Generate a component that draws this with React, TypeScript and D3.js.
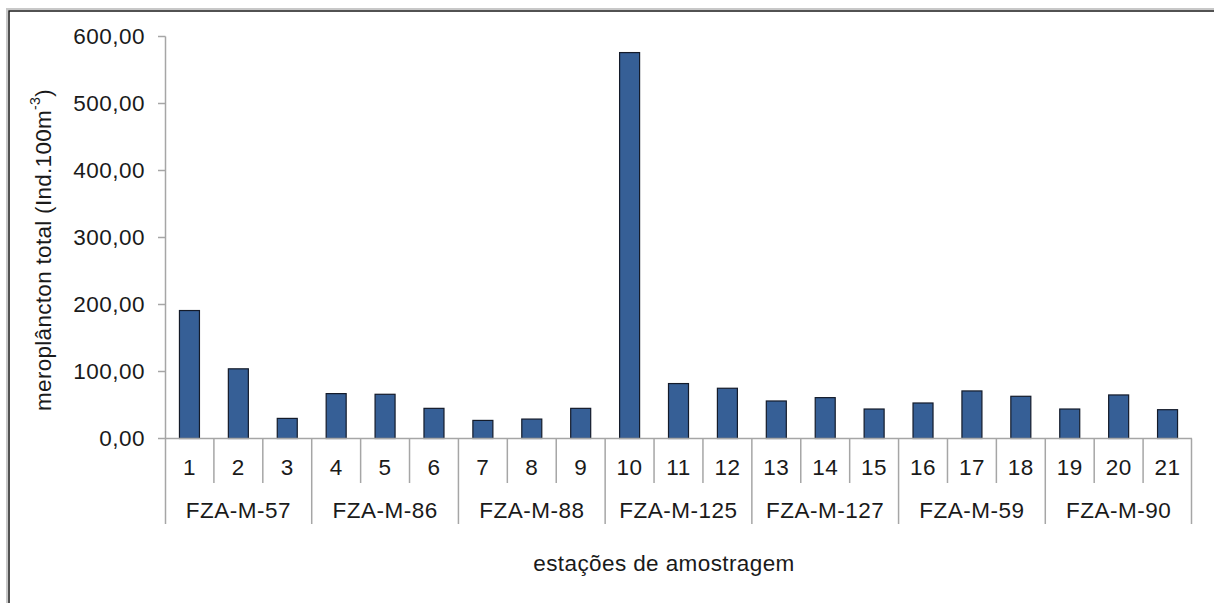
import * as d3 from "d3"

const stations = ["1", "2", "3", "4", "5", "6", "7", "8", "9", "10", "11", "12", "13", "14", "15", "16", "17", "18", "19", "20", "21"]
const values = [191, 104, 30, 67, 66, 45, 27, 29, 45, 576, 82, 75, 56, 61, 44, 53, 71, 63, 44, 65, 43]
const groups = ["FZA-M-57", "FZA-M-86", "FZA-M-88", "FZA-M-125", "FZA-M-127", "FZA-M-59", "FZA-M-90"]
const yTicks = [0, 100, 200, 300, 400, 500, 600]

const W = 1214
const H = 603
const font = "'Liberation Sans', Arial, sans-serif"
const axisColor = "#a6a6a6"
const fs = 22.5

const fmt = d3.formatLocale({ decimal: ",", thousands: ".", grouping: [3], currency: ["", ""] }).format(".2f")

export default function App() {
  const x = d3.scaleBand().domain(stations).range([165, 1192])
  const y = d3.scaleLinear().domain([0, 600]).range([438.5, 36.5])
  const bw = 20
  const perGroup = stations.length / groups.length
  const y0 = y(0)

  return (
    <svg
      width={W}
      height={H}
      viewBox={`0 0 ${W} ${H}`}
      style={{ position: "fixed", top: 0, left: 0, background: "#fff" }}
      fontFamily={font}
    >
      {/* frame */}
      <path d={`M7,${H} V9 H${W}`} fill="none" stroke="#c8c8c8" strokeWidth={2} />
      <path d={`M9,${H} V11 H${W}`} fill="none" stroke="#1a1a1a" strokeWidth={1.5} />

      {/* y axis */}
      <line x1={165.5} x2={165.5} y1={y(600)} y2={524} stroke={axisColor} strokeWidth={1.5} />
      {yTicks.map((t) => (
        <g key={t}>
          <line x1={158} x2={165.5} y1={y(t)} y2={y(t)} stroke={axisColor} strokeWidth={1.5} />
          <text
            x={145}
            y={y(t)}
            textAnchor="end"
            dominantBaseline="central"
            fontSize={fs}
            letterSpacing={0.5}
            fill="#1a1a1a"
          >
            {fmt(t)}
          </text>
        </g>
      ))}

      {/* bars */}
      {stations.map((s, i) => {
        const cx = (x(s) ?? 0) + x.bandwidth() / 2
        return (
          <rect
            key={s}
            x={cx - bw / 2}
            y={y(values[i])}
            width={bw}
            height={y0 - y(values[i])}
            fill="#365f96"
            stroke="#141b2a"
            strokeWidth={1.2}
          />
        )
      })}

      {/* x axis */}
      <line x1={165} x2={1192} y1={y0} y2={y0} stroke={axisColor} strokeWidth={1.5} />
      {stations.map((s, i) => {
        const left = x(s) ?? 0
        const isGroupEdge = i % perGroup === 0
        return (
          <g key={s}>
            {i > 0 && (
              <line
                x1={left}
                x2={left}
                y1={y0}
                y2={isGroupEdge ? 524 : 483}
                stroke={axisColor}
                strokeWidth={1.5}
              />
            )}
            <text
              x={left + x.bandwidth() / 2}
              y={467}
              textAnchor="middle"
              dominantBaseline="central"
              fontSize={fs}
              letterSpacing={0.5}
              fill="#1a1a1a"
            >
              {s}
            </text>
          </g>
        )
      })}
      <line x1={1191.5} x2={1191.5} y1={y0} y2={524} stroke={axisColor} strokeWidth={1.5} />
      {groups.map((g, j) => {
        const a = x(stations[j * perGroup]) ?? 0
        const b = (x(stations[j * perGroup + perGroup - 1]) ?? 0) + x.bandwidth()
        return (
          <text
            key={g}
            x={(a + b) / 2}
            y={510}
            textAnchor="middle"
            dominantBaseline="central"
            fontSize={fs}
            letterSpacing={0.5}
            fill="#1a1a1a"
          >
            {g}
          </text>
        )
      })}

      {/* titles */}
      <text x={664} y={563} textAnchor="middle" dominantBaseline="central" fontSize={fs} letterSpacing={0.4} fill="#1a1a1a">
        estações de amostragem
      </text>
      <text
        transform={`translate(43,250) rotate(-90)`}
        textAnchor="middle"
        dominantBaseline="central"
        fontSize={fs}
        letterSpacing={0.3}
        fill="#1a1a1a"
      >
        meroplâncton total (Ind.100m
        <tspan fontSize={14} dy={-8}>-3</tspan>
        <tspan dy={8}>)</tspan>
      </text>
    </svg>
  )
}
